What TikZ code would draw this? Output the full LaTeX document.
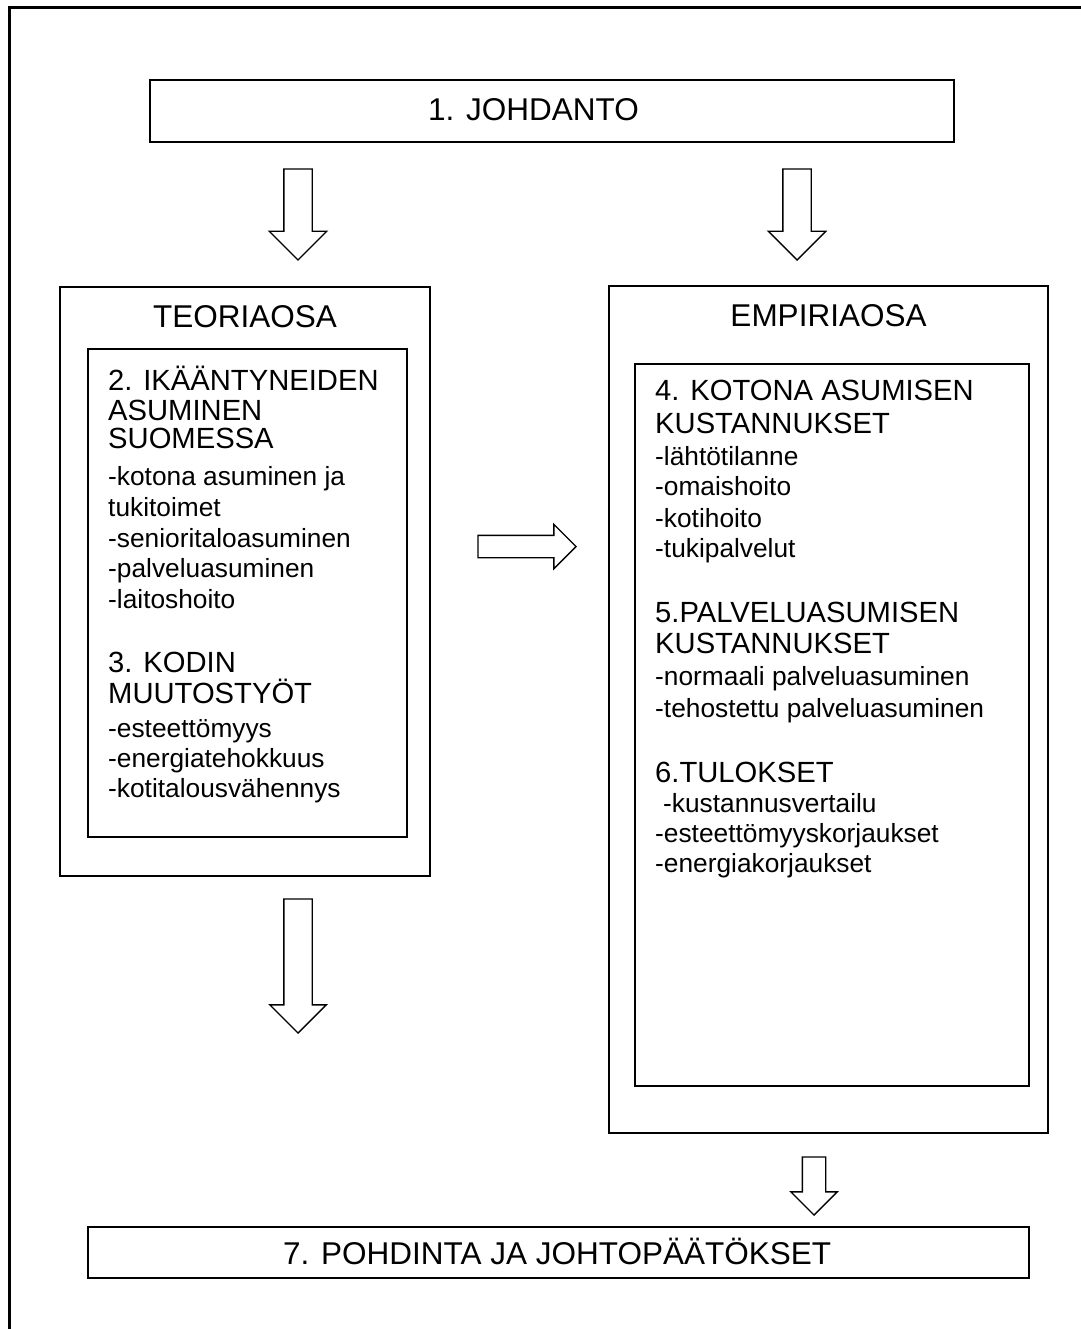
\documentclass[tikz,border=0pt]{standalone}
\usepackage{fontspec}
\setmainfont{Liberation Sans}
\usetikzlibrary{shapes.arrows}

\tikzset{
	kehys/.style={line width=3pt},
	laatikko/.style={draw, line width=1.4pt, outer sep=0pt, inner sep=0pt, anchor=north west},
	otsikko/.style={font=\fontsize{31.5}{36}\selectfont, inner sep=0pt, anchor=base},
	luku/.style={font=\fontsize{29.2}{33}\selectfont, inner sep=0pt, anchor=base west},
	kohta/.style={font=\fontsize{26.3}{31}\selectfont, inner sep=0pt, anchor=base west},
	nuoli/.style={single arrow, draw, line width=1.4pt, fill=white, anchor=tail, outer sep=0pt}
}

\begin{document}
\begin{tikzpicture}[x=1pt, y=-1pt]
	\useasboundingbox (0,0) rectangle (1080,1329);
	\draw[kehys] (9,1345) -- (9,8) -- (1095,8);

	% laatikot
	\node[laatikko, minimum width=804pt, minimum height=62pt] (johdanto) at (150,80) {};
	\node[laatikko, minimum width=370pt, minimum height=589pt] (teoria) at (60,287) {};
	\node[laatikko, minimum width=319pt, minimum height=488pt] (teoriasis) at (88,349) {};
	\node[laatikko, minimum width=439pt, minimum height=847pt] (empiria) at (609,286) {};
	\node[laatikko, minimum width=394pt, minimum height=722pt] (empiriasis) at (635,364) {};
	\node[laatikko, minimum width=941pt, minimum height=51pt] (pohdinta) at (88,1227) {};

	% otsikot
	\node[otsikko, anchor=base west] (johdantoteksti) at (428,121) {1. JOHDANTO};
	\node[otsikko] (teoriateksti) at (245,327) {TEORIAOSA};
	\node[otsikko] (empiriateksti) at (828.5,326) {EMPIRIAOSA};
	\node[otsikko, anchor=base west] (pohdintateksti) at (283,1264) {7. POHDINTA JA JOHTOPÄÄTÖKSET};

	% teoriaosa
	\foreach \y/\t [count=\i] in {390/2. IKÄÄNTYNEIDEN, 420/ASUMINEN, 448/SUOMESSA}
		\node[luku] (asumluku\i) at (108,\y) {\t};
	\foreach \y/\t [count=\i] in {485/-kotona asuminen ja, 516/tukitoimet, 547/-senioritaloasuminen, 577/-palveluasuminen, 608/-laitoshoito}
		\node[kohta] (asumkohta\i) at (108,\y) {\t};
	\foreach \y/\t [count=\i] in {672/3. KODIN, 703/MUUTOSTYÖT}
		\node[luku] (muutosluku\i) at (108,\y) {\t};
	\foreach \y/\t [count=\i] in {737/-esteettömyys, 767/-energiatehokkuus, 797/-kotitalousvähennys}
		\node[kohta] (muutoskohta\i) at (108,\y) {\t};

	% empiriaosa
	\foreach \y/\t [count=\i] in {400/4. KOTONA ASUMISEN, 433/KUSTANNUKSET}
		\node[luku] (kotiluku\i) at (655,\y) {\t};
	\foreach \y/\t [count=\i] in {465/-lähtötilanne, 495/-omaishoito, 527/-kotihoito, 557/-tukipalvelut}
		\node[kohta] (kotikohta\i) at (655,\y) {\t};
	\foreach \y/\t [count=\i] in {622/5.PALVELUASUMISEN, 653/KUSTANNUKSET}
		\node[luku] (palveluluku\i) at (655,\y) {\t};
	\foreach \y/\t [count=\i] in {685/-normaali palveluasuminen, 717/-tehostettu palveluasuminen}
		\node[kohta] (palvelukohta\i) at (655,\y) {\t};
	\node[luku] (tulosluku) at (655,782) {6.TULOKSET};
	\foreach \x/\y/\t [count=\i] in {663/812/-kustannusvertailu, 655/842/-esteettömyyskorjaukset, 655/872/-energiakorjaukset}
		\node[kohta] (tuloskohta\i) at (\x,\y) {\t};

	% nuolet
	\node[nuoli, shape border rotate=270, inner sep=13.5pt, minimum height=91pt, single arrow head extend=14.5pt] (nuoliA) at (298,169) {};
	\node[nuoli, shape border rotate=270, inner sep=13.5pt, minimum height=91pt, single arrow head extend=14.5pt] (nuoliB) at (797,169) {};
	\node[nuoli, inner sep=10.5pt, minimum height=98pt, single arrow head extend=11pt] (nuoliC) at (478,546.5) {};
	\node[nuoli, shape border rotate=270, inner sep=13.5pt, minimum height=134pt, single arrow head extend=14pt] (nuoliD) at (298,899) {};
	\node[nuoli, shape border rotate=270, inner sep=11pt, minimum height=58pt, single arrow head extend=11.5pt] (nuoliE) at (814,1157) {};
\end{tikzpicture}
\end{document}
